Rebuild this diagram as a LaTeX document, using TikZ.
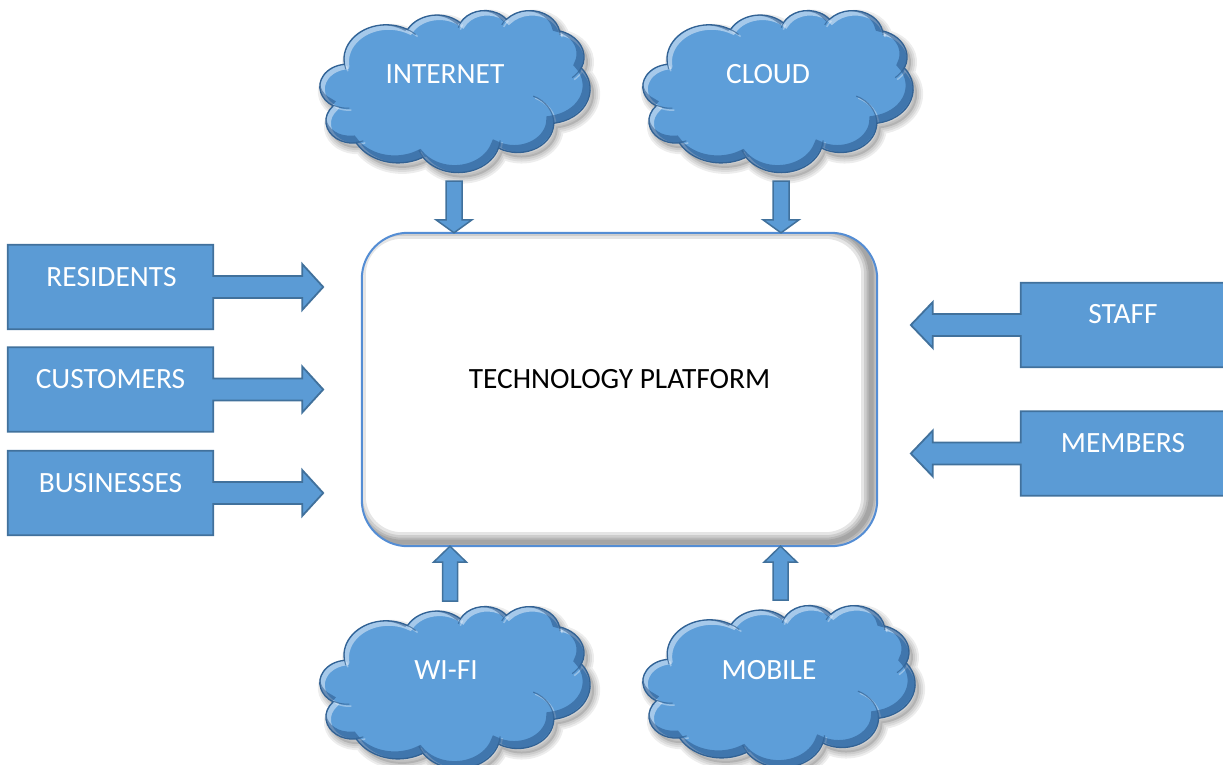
\documentclass[tikz,border=0pt]{standalone}
\usepackage{fontspec}
\setmainfont{Carlito}
\usetikzlibrary{calc}

\definecolor{boxblue}{RGB}{91,155,213}
\definecolor{boxedge}{RGB}{65,113,156}
\definecolor{cloudblue}{RGB}{93,158,217}
\definecolor{cloudedge}{RGB}{50,98,148}
\definecolor{cloudshade}{RGB}{30,70,120}
\definecolor{platedge}{RGB}{84,141,212}

% elliptical arc given by radii and a start/sweep angle measured as ray angles
\newcommand\cldarc[4]{arc[x radius=#1, y radius=#2,
  start angle={atan2(#1*sin(#3),#2*cos(#3))},
  delta angle={mod(atan2(#1*sin(#3+#4),#2*cos(#3+#4))-atan2(#1*sin(#3),#2*cos(#3))+720,360)}]}

% cloud outline in a 432 x 432 box (y pointing down)
\newcommand\cloudP{(39.00,143.70)
  \cldarc{67.53}{91.90}{-190.4875}{123.7805}
  \cldarc{53.33}{72.67}{-144.1024}{89.9452}
  \cldarc{43.65}{59.45}{-145.8079}{99.7230}
  \cldarc{48.57}{65.95}{-130.9861}{117.2417}
  \cldarc{53.33}{72.73}{-78.7089}{109.0269}
  \cldarc{67.75}{92.20}{-46.2673}{130.2690}
  \cldarc{57.85}{78.67}{0.6250}{114.0333}
  \cldarc{67.52}{92.15}{22.4516}{115.1726}
  \cldarc{77.20}{105.43}{66.2426}{75.7110}
  \cldarc{43.60}{59.18}{-274.9421}{146.7356}
  \cldarc{43.45}{59.45}{-246.8285}{152.5189}
  -- cycle}

% creases between the puffs
\newcommand\creaseP{
  (46.93,261.77) \cldarc{43.45}{59.45}{86.742}{26.4295}
  (69.28,348.99) \cldarc{43.60}{59.18}{73.6105}{11.4475}
  (164.78,390.90) \cldarc{67.52}{92.15}{137.6242}{14.0811}
  (288.27,347.51) \cldarc{67.52}{92.15}{6.4533}{15.9984}
  (341.29,229.54) \cldarc{57.85}{78.67}{-70.2924}{70.9174}
  (417.98,153.54) \cldarc{53.33}{72.73}{30.3180}{27.7515}
  (383.24,54.26) \cldarc{48.57}{65.95}{-13.7443}{14.8548}
  (290.78,39.52) \cldarc{48.57}{65.95}{-149.1815}{18.1959}
  (221.41,47.20) \cldarc{43.65}{59.45}{-163.4943}{17.6876}
  (140.00,51.92) \cldarc{67.53}{91.90}{-66.7070}{12.3194}
  (41.27,157.89) \cldarc{67.53}{91.90}{157.6544}{11.8582}}

% bevelled cloud: #1 name, #2 left, #3 top, #4 width, #5 height
\newcommand\drawcloud[5]{%
  \begin{scope}[shift={(#2+4,#3+5)}, xscale=#4/432, yscale=#5/432]
    \foreach \lw in {12,8,4}
      \draw[black, opacity=0.07, line width=\lw pt] \cloudP;
    \fill[black, opacity=0.12] \cloudP;
  \end{scope}
  \begin{scope}[shift={(#2,#3)}, xscale=#4/432, yscale=#5/432]
    \fill[cloudblue] \cloudP;
    \begin{scope}
      \clip \cloudP;
      \draw[white, opacity=0.45, line width=5pt,
            shift={({2.5*432/#4},{2.5*432/#5})}] \cloudP;
      \draw[white, opacity=0.35, line width=1.5pt,
            shift={({2*432/#4},{2*432/#5})}] \creaseP;
      \draw[cloudshade, opacity=0.45, line width=8pt,
            shift={({-3.5*432/#4},{-3.5*432/#5})}] \cloudP;
    \end{scope}
    \draw[cloudedge, line width=1.3pt] \cloudP;
    \draw[cloudedge, opacity=0.7, line width=1.1pt] \creaseP;
  \end{scope}
  \coordinate (#1) at (#2+#4/2,#3+#5/2);
}

% box with an arrow on its right side
\newcommand\rightcallout[1]{%
  \filldraw[callout] (#1.south west) -- (#1.north west) -- (#1.north east)
    -- ($(#1.east)+(0,-11)$) -- ($(#1.east)+(89,-11)$) -- ($(#1.east)+(89,-23)$)
    -- ($(#1.east)+(110,0)$) -- ($(#1.east)+(89,23)$) -- ($(#1.east)+(89,11)$)
    -- ($(#1.east)+(0,11)$) -- (#1.south east) -- cycle;}
% box with an arrow on its left side
\newcommand\leftcallout[1]{%
  \filldraw[callout] (#1.south east) -- (#1.north east) -- (#1.north west)
    -- ($(#1.west)+(0,-11)$) -- ($(#1.west)+(-88,-11)$) -- ($(#1.west)+(-88,-23)$)
    -- ($(#1.west)+(-110,0)$) -- ($(#1.west)+(-88,23)$) -- ($(#1.west)+(-88,11)$)
    -- ($(#1.west)+(0,11)$) -- (#1.south west) -- cycle;}

% block arrows: #1 tail centre, #2 tip
\newcommand\dnblock[2]{%
  \filldraw[blockarrow] ($(#1)+(-8,0)$) -- ($(#1)+(8,0)$) -- ($(#2)+(8,-13)$)
    -- ($(#2)+(18,-13)$) -- (#2) -- ($(#2)+(-18,-13)$) -- ($(#2)+(-8,-13)$) -- cycle;}
\newcommand\upblock[2]{%
  \filldraw[blockarrow] ($(#1)+(-7.5,0)$) -- ($(#1)+(7.5,0)$) -- ($(#2)+(7.5,16)$)
    -- ($(#2)+(16.5,16)$) -- (#2) -- ($(#2)+(-16.5,16)$) -- ($(#2)+(-7.5,16)$) -- cycle;}

\tikzset{
  callout/.style={fill=boxblue, draw=boxedge, line width=1.8pt, line join=miter},
  blockarrow/.style={fill=boxblue, draw=boxedge, line width=1.5pt, line join=miter},
  boxslot/.style={minimum width=205pt, minimum height=84pt, inner sep=0pt},
  wlabel/.style={text=white, font=\fontsize{29.4}{35}\selectfont, inner sep=0pt},
  blabel/.style={text=black, font=\fontsize{29.4}{35}\selectfont, inner sep=0pt},
  platform/.style={minimum width=515pt, minimum height=313pt, inner sep=0pt,
                   rounded corners=46pt, fill=white},
}

\begin{document}
\begin{tikzpicture}[x=1pt, y=1pt, yscale=-1]
\useasboundingbox (0,0) rectangle (1223,764);

% clouds
\drawcloud{inet}{320}{10}{270}{162}
\drawcloud{cld}{643}{10}{270}{162}
\drawcloud{wifi}{320}{606}{270}{162}
\drawcloud{mob}{643}{605}{272}{162}

% central platform with inner shading
\node[platform] (plat) at (619.5,389.5) {};
\begin{scope}
  \clip[rounded corners=46pt] (plat.south west) rectangle (plat.north east);
  \foreach \w in {20,14,9,5}
    \draw[black, opacity=0.1, line width=\w pt, rounded corners=46pt]
      ($(plat.south west)+(-6,-4)$) rectangle ($(plat.north east)+(-6,-4)$);
\end{scope}
\draw[platedge, line width=2pt, rounded corners=46pt]
  (plat.south west) rectangle (plat.north east);
\node[blabel] (platL) at (619.5,379) {TECHNOLOGY PLATFORM};

% arrows from the clouds
\coordinate (inetS) at (454,181);
\coordinate (inetT) at (inetS |- plat.north);
\coordinate (cldS) at (781,181);
\coordinate (cldT) at (cldS |- plat.north);
\coordinate (wifiS) at (450,601);
\coordinate (wifiT) at (wifiS |- plat.south);
\coordinate (mobS) at (780.5,600);
\coordinate (mobT) at (mobS |- plat.south);
\dnblock{inetS}{inetT}
\dnblock{cldS}{cldT}
\upblock{wifiS}{wifiT}
\upblock{mobS}{mobT}

% cloud labels
\node[wlabel] (inetL) at (445,74) {INTERNET};
\node[wlabel] (cldL) at (768,74) {CLOUD};
\node[wlabel] (wifiL) at (446,670) {WI-FI};
\node[wlabel] (mobL) at (769,670) {MOBILE};

% left group
\node[boxslot] (res) at (110.5,287) {};
\node[boxslot] (cus) at (110.5,389.5) {};
\node[boxslot] (bus) at (110.5,493) {};
\rightcallout{res}
\rightcallout{cus}
\rightcallout{bus}
\node[wlabel] (resL) at ($(res.center)+(1,-10)$) {RESIDENTS};
\node[wlabel] (cusL) at ($(cus.center)+(0,-10)$) {CUSTOMERS};
\node[wlabel] (busL) at ($(bus.center)+(0,-10)$) {BUSINESSES};

% right group
\node[boxslot, minimum width=204pt] (stf) at (1123,325) {};
\node[boxslot, minimum width=204pt] (mem) at (1123,453.5) {};
\leftcallout{stf}
\leftcallout{mem}
\node[wlabel] (stfL) at ($(stf.center)+(0,-11)$) {STAFF};
\node[wlabel] (memL) at ($(mem.center)+(0,-10.5)$) {MEMBERS};
\end{tikzpicture}
\end{document}
